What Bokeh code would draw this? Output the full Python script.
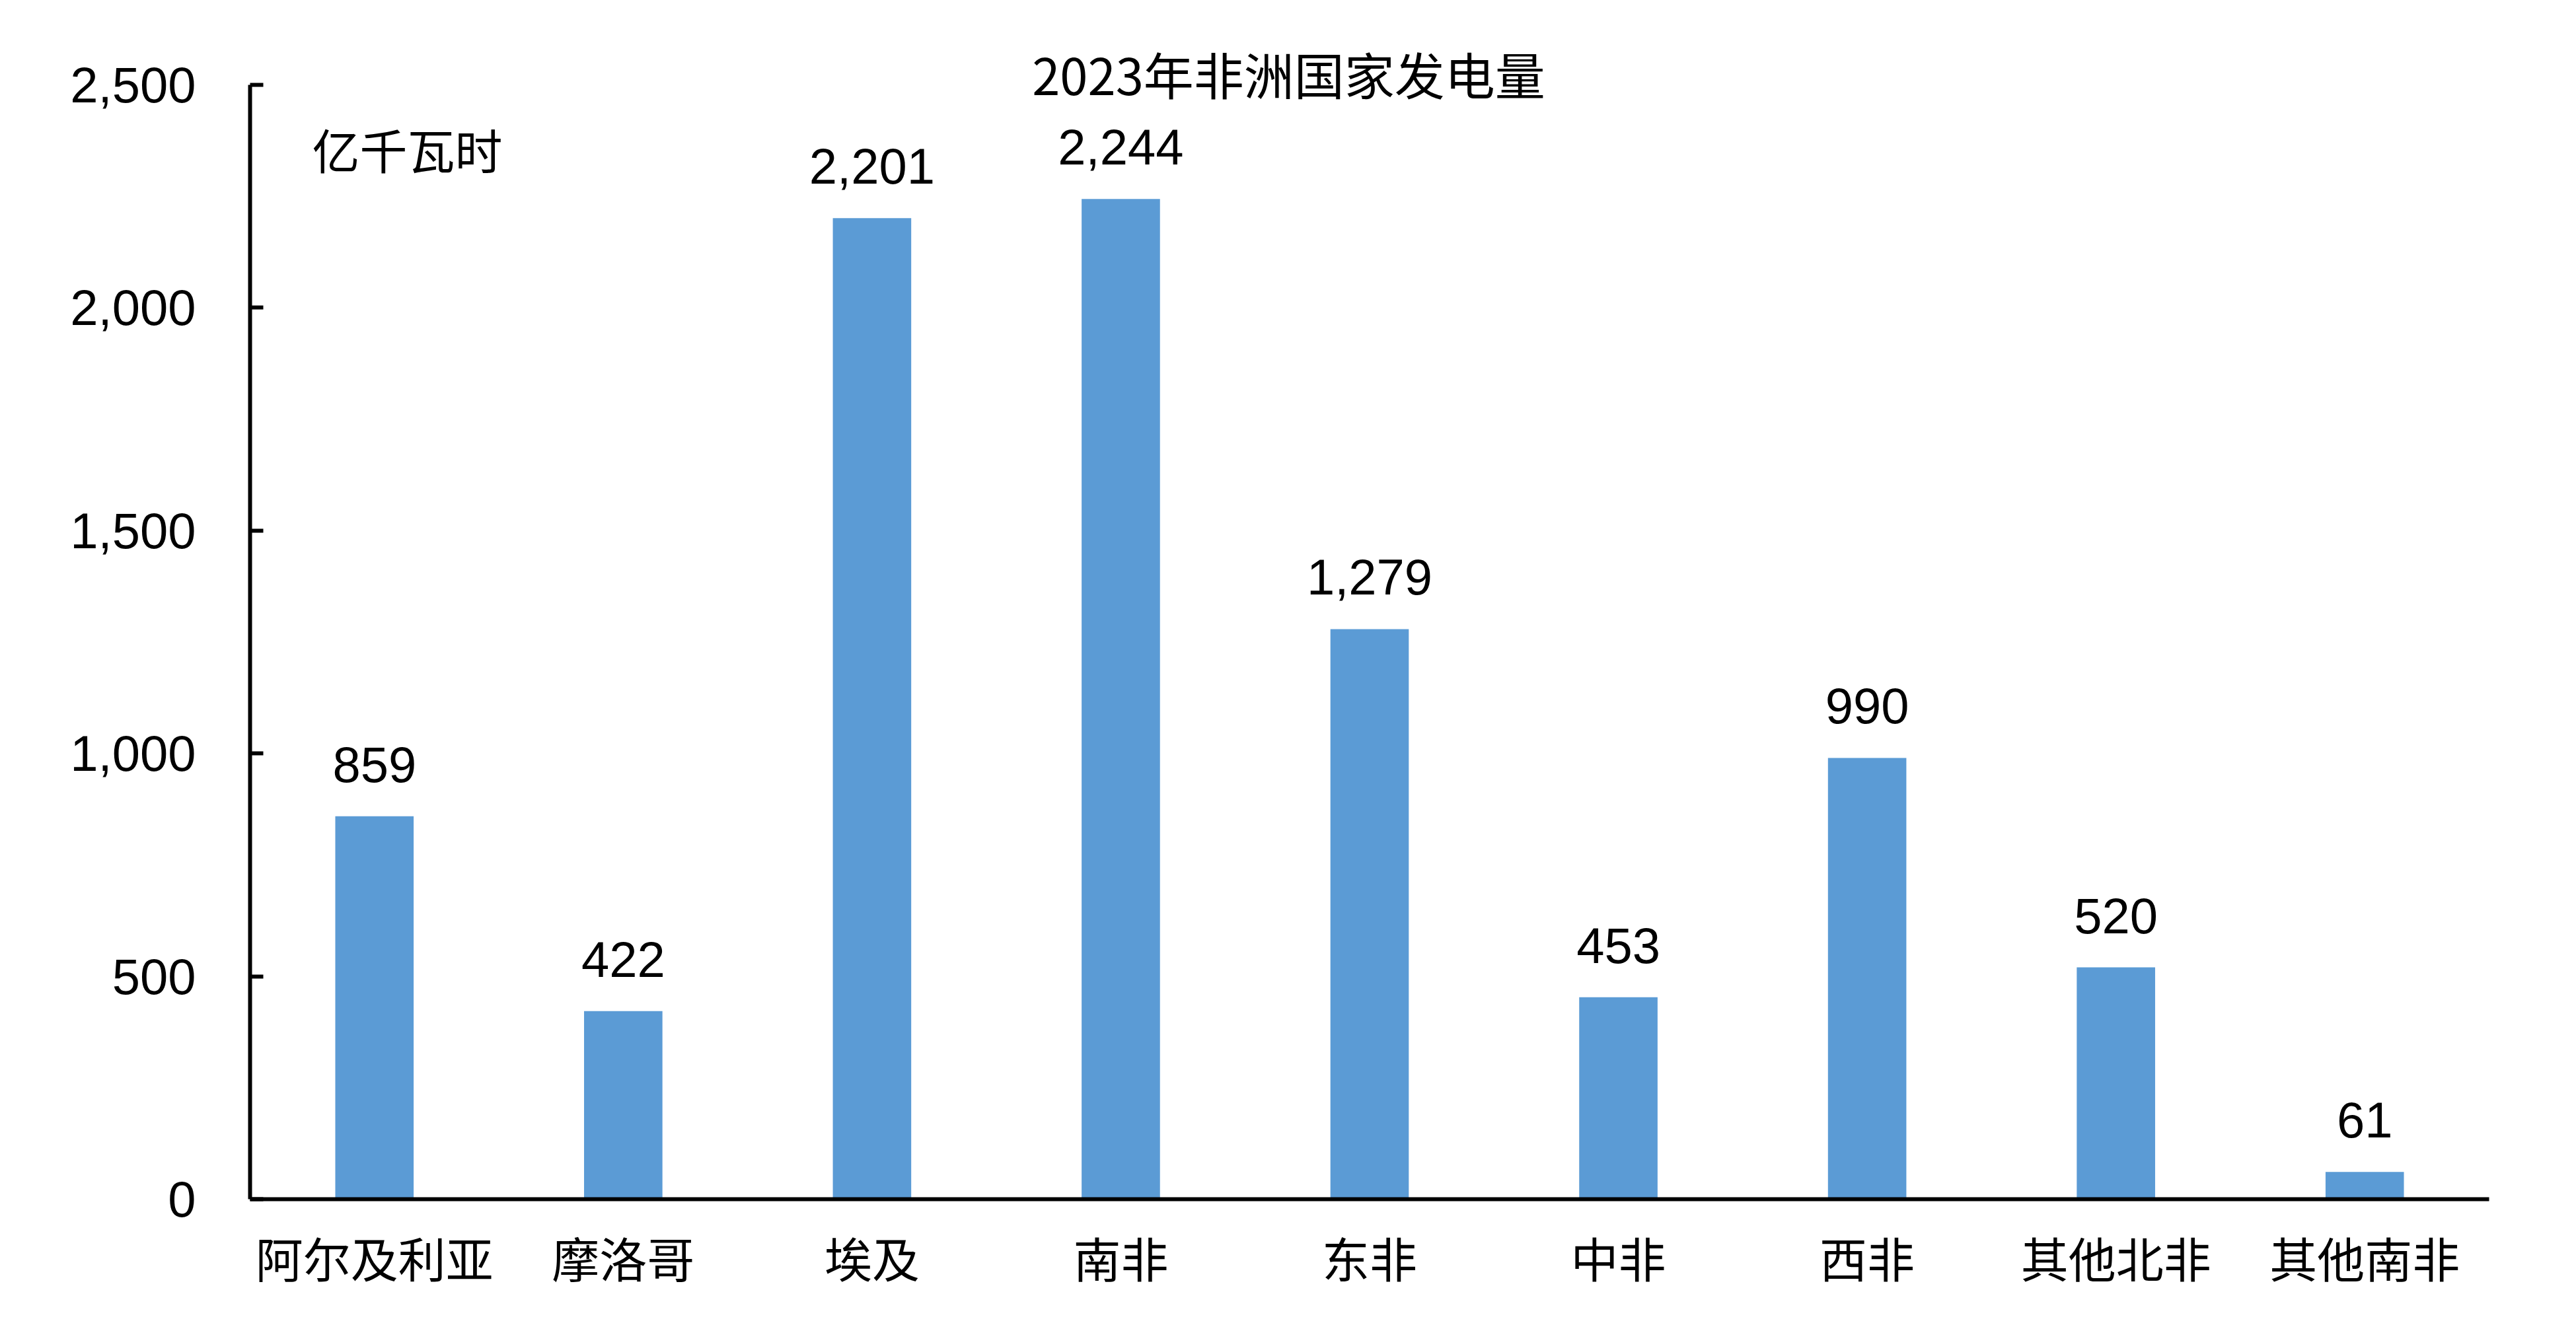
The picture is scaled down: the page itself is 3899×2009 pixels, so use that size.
from bokeh.plotting import figure
from bokeh.models import (ColumnDataSource, FactorRange, Range1d, FixedTicker,
                          NumeralTickFormatter, LabelSet, Label)
from bokeh.core.properties import value
from bokeh.embed import file_html
from bokeh.resources import INLINE

categories = ["阿尔及利亚", "摩洛哥", "埃及", "南非", "东非", "中非", "西非", "其他北非", "其他南非"]
values = [859, 422, 2201, 2244, 1279, 453, 990, 520, 61]
y_ticks = [0, 500, 1000, 1500, 2000, 2500]
title_text = "2023年非洲国家发电量"
unit_text = "亿千瓦时"

NUM_FONT = "Liberation Sans"
CJK_FONT = "Noto Sans CJK SC"

source = ColumnDataSource(dict(
    cat=categories,
    val=values,
    txt=[f"{v:,}" for v in values],
))

p = figure(width=3883, height=1993, output_backend="svg", toolbar_location=None,
           x_range=FactorRange(*categories), y_range=Range1d(0, 2660),
           min_border_left=378, min_border_right=116, min_border_top=20,
           min_border_bottom=178)
p.outline_line_color = None
p.xgrid.grid_line_color = None
p.ygrid.grid_line_color = None
p.background_fill_color = "white"
p.border_fill_color = "white"

p.vbar(x="cat", top="val", width=0.315, source=source, fill_color="#5B9BD5",
       line_color=None)

labels = LabelSet(x="cat", y="val", text="txt", source=source, y_offset=52,
                  text_align="center", text_baseline="alphabetic",
                  text_font=value(NUM_FONT), text_font_size=value("76px"),
                  text_color="black")
p.add_layout(labels)

# axes
yax = p.yaxis[0]
yax.ticker = FixedTicker(ticks=y_ticks)
yax.bounds = (0, 2500)
yax.formatter = NumeralTickFormatter(format="0,0")
yax.axis_line_width = 6
yax.axis_line_color = "black"
yax.major_tick_in = 20
yax.major_tick_out = 0
yax.major_tick_line_width = 6
yax.major_tick_line_color = "black"
yax.minor_tick_line_color = None
yax.major_label_text_font = NUM_FONT
yax.major_label_text_font_size = "76px"
yax.major_label_text_color = "black"
yax.major_label_standoff = 82

xax = p.xaxis[0]
xax.axis_line_width = 6
xax.axis_line_color = "black"
xax.major_tick_in = 0
xax.major_tick_out = 0
xax.minor_tick_line_color = None
xax.major_label_text_font = CJK_FONT
xax.major_label_text_font_size = "72px"
xax.major_label_text_color = "black"
xax.major_label_standoff = 34

title = Label(x=1572, y=1705, x_units="screen", y_units="screen", text=title_text,
              text_align="center", text_baseline="middle", text_font=CJK_FONT,
              text_font_size="76px", text_color="black")
p.add_layout(title)

unit = Label(x=94, y=1591, x_units="screen", y_units="screen", text=unit_text,
             text_align="left", text_baseline="middle", text_font=CJK_FONT,
             text_font_size="72px", text_color="black")
p.add_layout(unit)

open("out.html", "w").write(file_html(p, INLINE))
